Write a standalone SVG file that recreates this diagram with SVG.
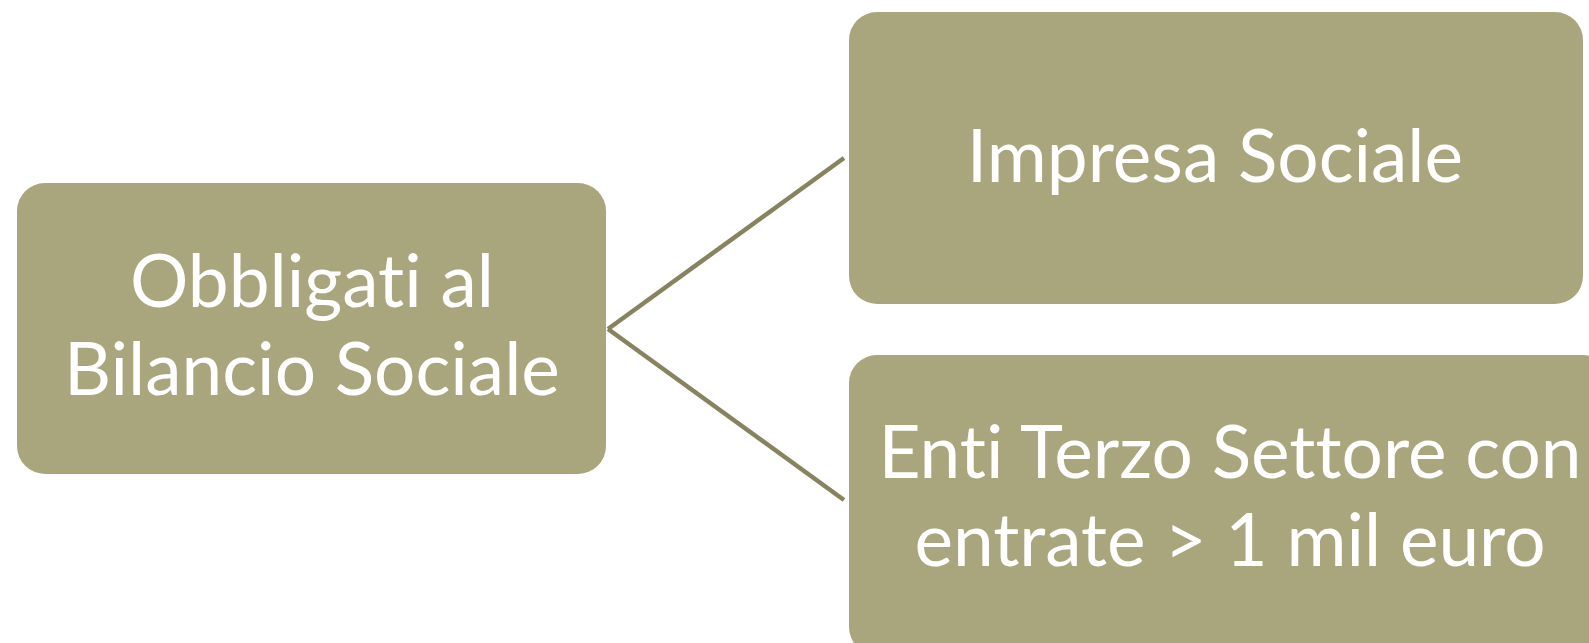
<svg xmlns="http://www.w3.org/2000/svg" width="1589" height="643" viewBox="0 0 1589 643">
<style>
.box{fill:#A9A57C;}
.lbl{fill:#FFFFFF;font-family:Lato,"Open Sans","Liberation Sans",sans-serif;font-size:73px;text-anchor:middle;font-variant-ligatures:none;font-feature-settings:"liga" 0;}
.conn{stroke:#88835F;stroke-width:4.5;fill:none;}
</style>
<rect width="1589" height="643" fill="#FFFFFF"/>
<g id="connectors">
<line class="conn" x1="608" y1="329" x2="844" y2="158"/>
<line class="conn" x1="608" y1="329" x2="844" y2="500"/>
</g>
<g id="node-obbligati">
<rect class="box" x="17" y="183" width="589" height="291" rx="28" ry="28"/>
<text class="lbl" x="312" y="307">Obbligati al</text>
<text class="lbl" x="312" y="395">Bilancio Sociale</text>
</g>
<g id="node-impresa">
<rect class="box" x="849" y="12" width="734" height="292" rx="28" ry="28"/>
<text class="lbl" x="1215" y="182">Impresa Sociale</text>
</g>
<g id="node-enti">
<rect class="box" x="849" y="355" width="762" height="300" rx="28" ry="28"/>
<text class="lbl" x="1230" y="478">Enti Terzo Settore con</text>
<text class="lbl" x="1230" y="566">entrate &gt; 1 mil euro</text>
</g>
</svg>
